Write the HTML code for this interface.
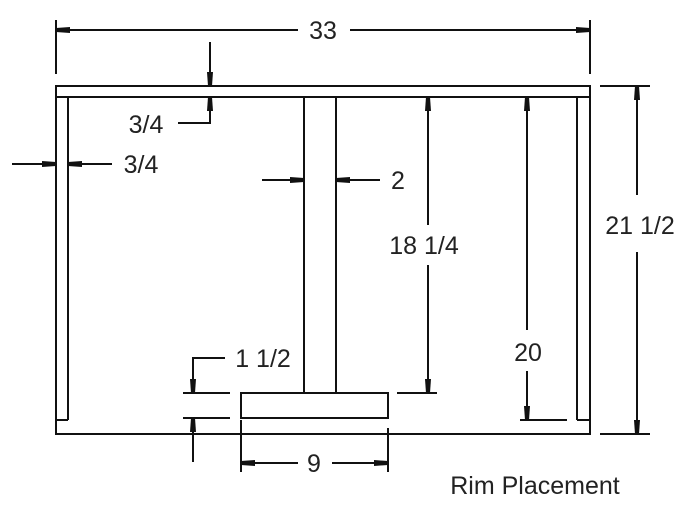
<!DOCTYPE html>
<html><head><style>body{margin:0;background:#fff}svg{display:block}text{font-family:"Liberation Sans",sans-serif;font-size:25px;fill:#222}</style></head><body>
<svg width="690" height="505" viewBox="0 0 690 505" xmlns="http://www.w3.org/2000/svg">
<defs><marker id="a" viewBox="0 0 14 10" refX="14" refY="5" markerWidth="14" markerHeight="10" orient="auto-start-reverse" markerUnits="userSpaceOnUse"><path d="M0,2 L14,3 L14,7 L0,8 Z" fill="#111"/></marker></defs>
<g stroke="#111" stroke-width="2" fill="none">
<rect x="56" y="86" width="534" height="11"/>
<polyline points="56,97 56,434 590,434 590,97"/>
<line x1="68" y1="97" x2="68" y2="420"/><line x1="56" y1="420" x2="68" y2="420"/>
<line x1="577" y1="97" x2="577" y2="420"/><line x1="577" y1="420" x2="590" y2="420"/>
<rect x="304" y="97" width="32" height="296"/>
<rect x="241" y="393" width="147" height="25"/>
<line x1="56" y1="20" x2="56" y2="74"/><line x1="590" y1="20" x2="590" y2="74"/>
<line x1="56" y1="30" x2="298" y2="30" marker-start="url(#a)"/>
<line x1="350" y1="30" x2="590" y2="30" marker-end="url(#a)"/>
<line x1="600" y1="86" x2="650" y2="86"/><line x1="600" y1="434" x2="650" y2="434"/>
<line x1="637" y1="86" x2="637" y2="195" marker-start="url(#a)"/>
<line x1="637" y1="252" x2="637" y2="434" marker-end="url(#a)"/>
<line x1="520" y1="420" x2="567" y2="420"/>
<line x1="527" y1="97" x2="527" y2="330" marker-start="url(#a)"/>
<line x1="527" y1="371" x2="527" y2="420" marker-end="url(#a)"/>
<line x1="397" y1="393" x2="437" y2="393"/>
<line x1="428" y1="97" x2="428" y2="225" marker-start="url(#a)"/>
<line x1="428" y1="265" x2="428" y2="393" marker-end="url(#a)"/>
<line x1="262" y1="180" x2="304" y2="180" marker-end="url(#a)"/>
<line x1="380" y1="180" x2="336" y2="180" marker-end="url(#a)"/>
<line x1="12" y1="164" x2="56" y2="164" marker-end="url(#a)"/>
<line x1="112" y1="164" x2="68" y2="164" marker-end="url(#a)"/>
<line x1="210" y1="42" x2="210" y2="86" marker-end="url(#a)"/>
<polyline points="178,123 210,123 210,97" marker-end="url(#a)"/>
<polyline points="225,358 193,358 193,393" marker-end="url(#a)"/>
<line x1="183" y1="393" x2="230" y2="393"/><line x1="183" y1="418" x2="230" y2="418"/>
<line x1="193" y1="462" x2="193" y2="418" marker-end="url(#a)"/>
<line x1="241" y1="420" x2="241" y2="472"/><line x1="388" y1="428" x2="388" y2="472"/>
<line x1="241" y1="463" x2="298" y2="463" marker-start="url(#a)"/>
<line x1="332" y1="463" x2="388" y2="463" marker-end="url(#a)"/>
</g>
<text x="323" y="39" text-anchor="middle">33</text>
<text x="640" y="234" text-anchor="middle">21 1/2</text>
<text x="528" y="361" text-anchor="middle">20</text>
<text x="424" y="254" text-anchor="middle">18 1/4</text>
<text x="398" y="189" text-anchor="middle">2</text>
<text x="141" y="173" text-anchor="middle">3/4</text>
<text x="146" y="133" text-anchor="middle">3/4</text>
<text x="263" y="367" text-anchor="middle">1 1/2</text>
<text x="314" y="472" text-anchor="middle">9</text>
<text x="535" y="494" text-anchor="middle">Rim Placement</text>
</svg>
</body></html>
